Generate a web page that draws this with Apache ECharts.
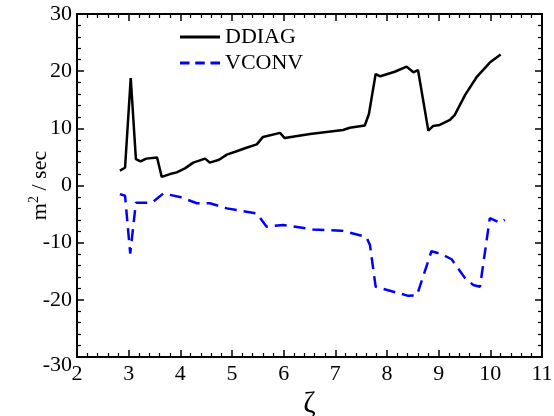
<!DOCTYPE html>
<html>
<head>
<meta charset="utf-8">
<script src="https://cdn.jsdelivr.net/npm/echarts@6/dist/echarts.min.js"></script>
<style>
  html, body { margin: 0; padding: 0; background: #fff; }
  #chart { width: 554px; height: 416px; }
</style>
</head>
<body>
<div id="chart"></div>
<script>
// DDIAG profile
const zetaD = [2.83, 2.93, 3.04, 3.14, 3.23, 3.34, 3.55, 3.64, 3.80, 3.93, 4.09, 4.25, 4.48, 4.57, 4.75, 4.90, 5.09, 5.28, 5.48, 5.60, 5.93, 6.02, 6.51, 7.15, 7.28, 7.57, 7.65, 7.78, 7.87, 8.15, 8.38, 8.51, 8.60, 8.80, 8.89, 9.02, 9.22, 9.31, 9.51, 9.73, 9.99, 10.20];
const ddiag = [2.6, 3.1, 18.8, 4.6, 4.2, 4.7, 4.9, 1.5, 2.0, 2.3, 3.0, 4.0, 4.7, 4.0, 4.5, 5.4, 6.0, 6.6, 7.2, 8.5, 9.2, 8.3, 9.0, 9.7, 10.1, 10.5, 12.5, 19.5, 19.1, 19.9, 20.8, 19.8, 20.2, 9.6, 10.4, 10.6, 11.5, 12.3, 15.8, 18.9, 21.5, 22.9];

// VCONV profile
const zetaV = [2.83, 2.93, 3.03, 3.14, 3.45, 3.67, 3.99, 4.32, 4.57, 4.90, 5.48, 5.67, 5.99, 6.57, 7.12, 7.60, 7.67, 7.78, 8.41, 8.58, 8.86, 9.05, 9.25, 9.51, 9.67, 9.80, 9.99, 10.18, 10.28];
const vconv = [-1.5, -1.8, -11.9, -3.0, -3.0, -1.4, -2.0, -3.1, -3.1, -4.0, -4.9, -7.2, -6.9, -7.7, -7.9, -9.0, -10.4, -17.7, -19.3, -19.2, -11.5, -12.0, -12.9, -16.2, -17.4, -17.7, -5.7, -6.5, -6.0];

// axis ranges
const xRange = [2, 11];
const yRange = [-30, 30];

const pairs = (xs, ys) => xs.map((x, i) => [x, ys[i]]);

const serif = 'Liberation Serif';
const frameLine = { show: true, onZero: false, lineStyle: { color: '#000', width: 2 } };
const ticks = { show: true, inside: true, length: 7, lineStyle: { color: '#000', width: 1.5 } };
const minor = { show: true, splitNumber: 5, length: 4, lineStyle: { color: '#000', width: 1.2 } };
const labelStyle = { color: '#000', fontFamily: serif, fontSize: 22 };

// legend glyphs: a solid stroke and a three-dash stroke
const solidIcon = 'path://M0,0h42v3h-42z';
const dashIcon = 'path://M0,0h10v3h-10z M16,0h10v3h-10z M32,0h10v3h-10z';

const chart = echarts.init(document.getElementById('chart'), null, { renderer: 'canvas' });
chart.setOption({
  animation: false,
  backgroundColor: '#fff',
  textStyle: { fontFamily: serif, color: '#000' },
  grid: { left: 77, right: 12, top: 14, bottom: 59, containLabel: false, outerBoundsMode: 'none' },
  legend: {
    orient: 'vertical',
    left: 175,
    top: 21,
    itemWidth: 40,
    itemHeight: 3,
    itemGap: 4,
    textStyle: { color: '#000', fontFamily: serif, fontSize: 22 },
    data: [
      { name: 'DDIAG', icon: solidIcon, itemStyle: { color: '#000' } },
      { name: 'VCONV', icon: dashIcon, itemStyle: { color: '#0000ff' } }
    ]
  },
  xAxis: [
    {
      type: 'value', min: xRange[0], max: xRange[1], interval: 1,
      position: 'bottom',
      axisLine: frameLine, axisTick: ticks, minorTick: minor,
      splitLine: { show: false },
      axisLabel: Object.assign({ margin: 6, formatter: v => String(v) }, labelStyle),
      name: 'ζ', nameLocation: 'middle', nameGap: 32, nameMoveOverlap: false,
      nameTextStyle: { color: '#000', fontFamily: serif, fontSize: 30 }
    },
    {
      type: 'value', min: xRange[0], max: xRange[1], interval: 1,
      position: 'top',
      axisLine: frameLine, axisTick: ticks, minorTick: minor,
      splitLine: { show: false }, axisLabel: { show: false }
    }
  ],
  yAxis: [
    {
      type: 'value', min: yRange[0], max: yRange[1], interval: 10,
      position: 'left',
      axisLine: frameLine, axisTick: ticks, minorTick: minor,
      splitLine: { show: false },
      axisLabel: Object.assign({
        margin: 5,
        // plain hyphen for negatives; the bottom label sits a little lower, clear of the corner
        formatter: v => (v === yRange[0] ? '{low|' + String(v) + '}' : String(v)),
        rich: { low: { fontFamily: serif, fontSize: 22, color: '#000', padding: [16, 0, 0, 0] } }
      }, labelStyle),
      name: 'm{sup|2} / sec', nameLocation: 'middle', nameGap: 24, nameRotate: 90, nameMoveOverlap: false,
      nameTextStyle: {
        color: '#000', fontFamily: serif, fontSize: 22,
        rich: { sup: { fontFamily: serif, fontSize: 14, color: '#000', verticalAlign: 'top', padding: [0, 0, 12, 0] } }
      }
    },
    {
      type: 'value', min: yRange[0], max: yRange[1], interval: 10,
      position: 'right',
      axisLine: frameLine, axisTick: ticks, minorTick: minor,
      splitLine: { show: false }, axisLabel: { show: false }
    }
  ],
  series: [
    {
      name: 'DDIAG', type: 'line', data: pairs(zetaD, ddiag),
      symbol: 'none',
      itemStyle: { color: '#000' },
      lineStyle: { color: '#000', width: 2.5, type: 'solid' }
    },
    {
      name: 'VCONV', type: 'line', data: pairs(zetaV, vconv),
      symbol: 'none',
      itemStyle: { color: '#0000ff' },
      lineStyle: { color: '#0000ff', width: 2.5, type: [12, 7] }
    }
  ]
});
</script>
</body>
</html>
